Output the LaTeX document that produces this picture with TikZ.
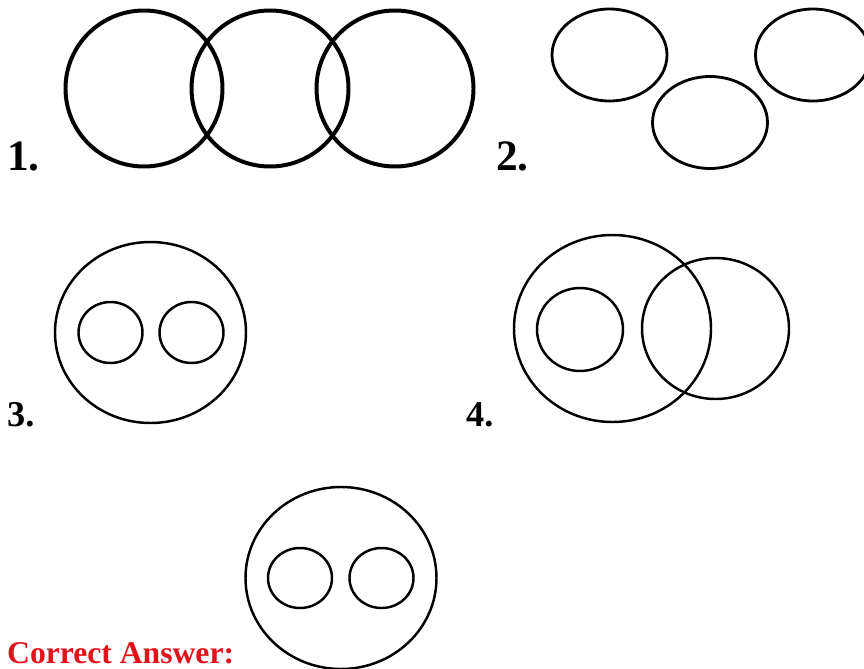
\documentclass[tikz,border=0pt]{standalone}
\usepackage{fontspec}
\setmainfont{Liberation Serif}
\usetikzlibrary{positioning}
\definecolor{answerred}{HTML}{E3111B}

\begin{document}
\begin{tikzpicture}[x=0.03cm,y=0.03cm,
    ring/.style={line width=2.1pt},
    thickring/.style={line width=3.4pt},
    numlabel/.style={anchor=base west,inner sep=0pt,font=\bfseries\fontsize{37}{40}\selectfont},
    smalllabel/.style={numlabel,font=\bfseries\fontsize{31}{34}\selectfont}]
        \useasboundingbox (0,0) rectangle (864,-668);
        % 1. three circles in a row
        \foreach \cx in {144,270,395}
          \draw[thickring] (\cx,-88.5) ellipse [x radius=78.5,y radius=78];
        \node[numlabel] (one) at (7,-170) {1.};
        % 2. three separate ovals
        \foreach \cx/\cy in {609.5/-55,710/-122.5,813/-55}
          \draw[ring,line width=2.4pt] (\cx,\cy) ellipse [x radius=57.5,y radius=46];
        \node[numlabel] (two) at (496,-170) {2.};
        % 3. two small circles inside a big one
        \draw[ring] (150.5,-332.5) ellipse [x radius=95.5,y radius=90.5];
        \foreach \cx in {110.5,191.5}
          \draw[ring] (\cx,-332.5) ellipse [x radius=32,y radius=30.5];
        \node[smalllabel] (three) at (7,-426) {3.};
        % 4. inner circle plus an overlapping one
        \draw[ring] (612.5,-328.5) ellipse [x radius=98.5,y radius=93.5];
        \draw[ring] (580,-329.5) ellipse [x radius=43,y radius=41.5];
        \draw[ring] (715.5,-328.5) ellipse [x radius=73.5,y radius=70.5];
        \node[smalllabel] (four) at (466,-426) {4.};
        % answer
        \draw[ring] (341,-578) ellipse [x radius=95.5,y radius=91];
        \foreach \cx in {300,381.5}
          \draw[ring] (\cx,-578) ellipse [x radius=32,y radius=30];
        \node[anchor=base west,inner sep=0pt,text=answerred,
              font=\bfseries\fontsize{27}{30}\selectfont] (answer) at (7,-663) {Correct Answer:};
      \end{tikzpicture}
\end{document}
